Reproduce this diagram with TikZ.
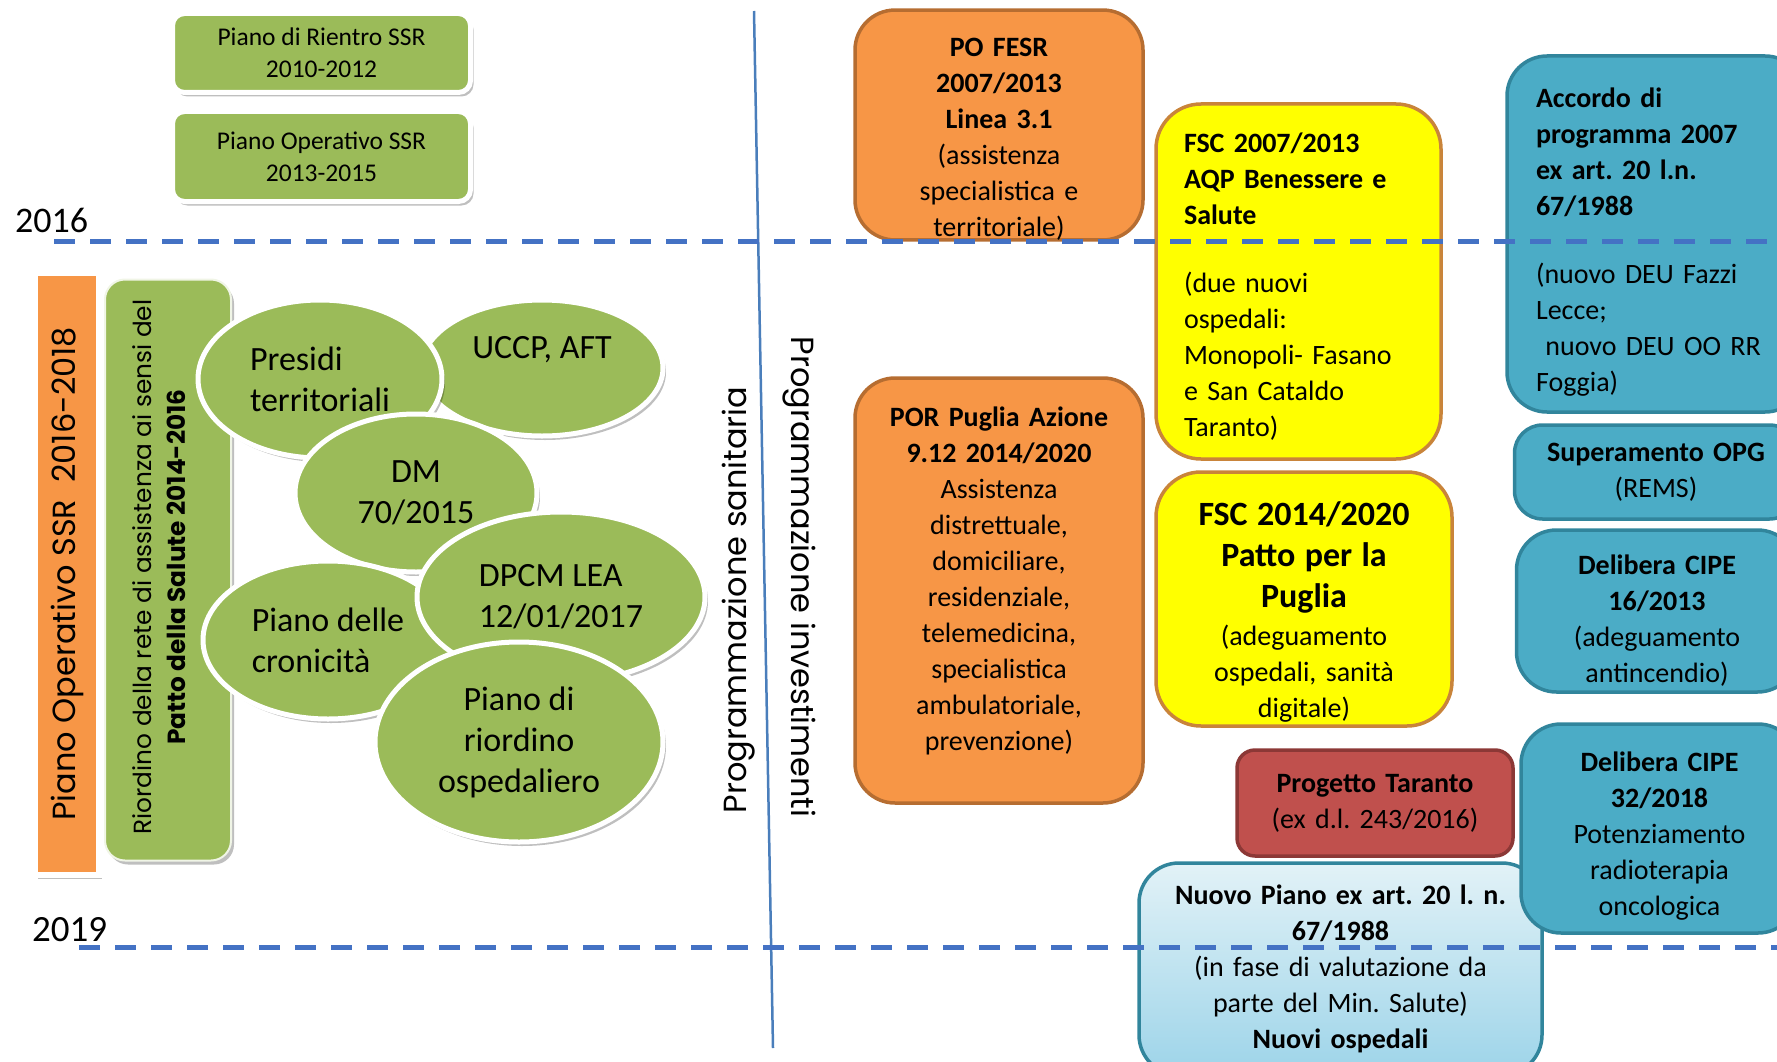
\documentclass[tikz,border=0pt]{standalone}
\usepackage{fontspec}
\setmainfont{Carlito}
\newfontfamily\gothic{Poppins}
\usetikzlibrary{shapes.geometric, shadows}
\usepackage{xcolor}
\definecolor{cg}{HTML}{9BBB59}
\definecolor{co}{HTML}{F79646}
\definecolor{cob}{HTML}{B66D31}
\definecolor{cy}{HTML}{FFFF00}
\definecolor{cyb}{HTML}{C9843A}
\definecolor{cb}{HTML}{4BACC6}
\definecolor{cbb}{HTML}{31859C}
\definecolor{cr}{HTML}{C0504D}
\definecolor{crb}{HTML}{8C3836}
\definecolor{cl1}{HTML}{E2F2F7}
\definecolor{cl2}{HTML}{9DD4E9}
\definecolor{cd}{HTML}{4472C4}
\definecolor{cv}{HTML}{4A7EBB}

\tikzset{
	soft/.style={drop shadow={shadow xshift=3pt, shadow yshift=-4pt, fill=black, opacity=0.25}},
	gbox/.style={soft, fill=cg, draw=white, line width=5pt, rounded corners=12pt, align=center, inner sep=0pt, font=\fontsize{25.5}{32}\selectfont},
	ell/.style={soft, ellipse, fill=cg, draw=white, line width=5pt, align=center, inner sep=0pt, font=\fontsize{34}{41}\selectfont},
	box/.style={draw, line width=3.5pt, rounded corners=40pt, align=center, inner sep=0pt, font=\fontsize{28}{36}\selectfont},
	obox/.style={box, fill=co, draw=cob},
	ybox/.style={box, fill=cy, draw=cyb, rounded corners=45pt},
	bbox/.style={box, fill=cb, draw=cbb},
	vtxt/.style={font=\gothic\fontsize{32}{40}\selectfont},
	dline/.style={cd, line width=5pt, dash pattern=on 21pt off 15pt},
}
\def\bigb#1{{\fontsize{34}{41}\selectfont\bfseries #1}}
\def\up#1{\rule{0pt}{#1}}
\def\dn#1{\rule[-#1]{0pt}{0pt}}
\frenchspacing

\begin{document}
\begin{tikzpicture}[x=1pt, y=-1pt]
	\useasboundingbox (0,0) rectangle (1777,1062);

	% before 2016
	\node[gbox, minimum width=298, minimum height=79] (rientro) at (321.5,53) {Piano di Rientro SSR\\2010-2012};
	\node[gbox, minimum width=298, minimum height=90] (po1315) at (321.5,156.5) {Piano Operativo SSR\\2013-2015};

	% programmazione sanitaria
	\node[soft, fill=co, draw=white, line width=6pt, minimum width=64, minimum height=602] (posr) at (67,574) {};
	\node[rotate=90, font=\gothic\fontsize{32}{38}\selectfont] (posrtxt) at (posr.center) {Piano Operativo SSR\ \ 2016-2018};
	\node[soft, fill=cg, draw=white!85!cg, line width=2pt, rounded corners=20pt, minimum width=126, minimum height=581] (rete) at (168,570) {};
	\node[rotate=90, align=center, font=\gothic\fontsize{24.8}{34}\selectfont] (retetxt) at (159,567) {Riordino della rete di assistenza ai sensi del\\\textbf{Patto della Salute 2014-2016}};

	\node[ell, minimum width=242, minimum height=136] (uccp) at (542,368) {UCCP, AFT\\\mbox{}};
	\node[ell, align=left, minimum width=244, minimum height=158] (presidi) at (320,379) {Presidi\\territoriali};
	\node[ell, minimum width=242, minimum height=158] (dm) at (416,493) {DM\\70/2015};
	\node[ell, align=left, minimum width=250, minimum height=158] (cron) at (328,640) {Piano delle\\cronicità};
	\node[ell, align=left, minimum width=288, minimum height=170] (dpcm) at (561,597) {DPCM LEA\\12/01/2017};
	\node[ell, minimum width=288, minimum height=200] (osp) at (519,742) {Piano di\\riordino\\ospedaliero};

	\node[vtxt, rotate=90] (progsan) at (739,600) {Programmazione sanitaria};
	\node[vtxt, rotate=-90] (proginv) at (799,577) {Programmazione investimenti};

	% programmazione investimenti
	\node[obox, minimum width=288, minimum height=228, text width=270] (fesr) at (999,125)
		{\up{46pt}\textbf{PO FESR}\\\textbf{2007/2013}\\\textbf{Linea 3.1}\\(assistenza\\specialistica e\\territoriale)};
	\node[ybox, align=left, minimum width=285, minimum height=355, text width=229] (fsca) at (1298.5,281.5)
		{\up{30pt}\textbf{FSC 2007/2013}\\\textbf{AQP Benessere e}\\\textbf{Salute}\\[32pt](due nuovi\\ospedali:\\Monopoli- Fasano\\e San Cataldo\\Taranto)};
	\node[bbox, align=left, minimum width=298, minimum height=356, text width=240] (accordo) at (1656,234)
		{\up{35pt}\textbf{Accordo di}\\\textbf{programma 2007}\\\textbf{ex art. 20 l.n.}\\\textbf{67/1988}\\[32pt](nuovo DEU Fazzi\\Lecce;\\\ nuovo DEU OO RR\\Foggia)};
	\node[obox, minimum width=288, minimum height=425, text width=270] (por) at (999,590.5)
		{\textbf{POR Puglia Azione}\\\textbf{9.12 2014/2020}\\Assistenza\\distrettuale,\\domiciliare,\\residenziale,\\telemedicina,\\specialistica\\ambulatoriale,\\prevenzione)\dn{24pt}};
	\node[ybox, minimum width=296, minimum height=254, text width=280] (fscb) at (1304,599)
		{\up{50pt}\bigb{FSC 2014/2020}\\[5pt]\bigb{Patto per la}\\[5pt]\bigb{Puglia}\\[2pt](adeguamento\\ospedali, sanità\\digitale)};
	\node[bbox, rounded corners=28pt, minimum width=283, minimum height=94, text width=260] (opg) at (1656,472)
		{\textbf{Superamento OPG}\\(REMS)};
	\node[bbox, minimum width=281, minimum height=162, text width=260] (cipe16) at (1657,611)
		{\up{39pt}\textbf{Delibera CIPE}\\\textbf{16/2013}\\(adeguamento\\antincendio)};
	\node[box, fill=cr, draw=crb, rounded corners=18pt, minimum width=276, minimum height=106, text width=260] (taranto) at (1375,803)
		{\textbf{Progetto Taranto}\\(ex d.l. 243/2016)};
	\node[box, top color=cl1, bottom color=cl2, draw=cbb, minimum width=403, minimum height=212, text width=380] (nuovo) at (1340.5,969)
		{\textbf{Nuovo Piano ex art. 20 l. n.}\\\textbf{67/1988}\\(in fase di valutazione da\\parte del Min. Salute)\\\textbf{Nuovi ospedali}};
	\node[bbox, minimum width=277, minimum height=209, text width=260] (cipe32) at (1659.5,828.5)
		{\up{35pt}\textbf{Delibera CIPE}\\\textbf{32/2018}\\Potenziamento\\radioterapia\\oncologica};

	% time lines
	\coordinate (vtop) at (754,11);
	\coordinate (vbot) at (773,1048);
	\draw[cv, line width=2.5pt] (vtop) -- (vbot);

	\coordinate (t0) at (54,241);
	\coordinate (t1) at (1777,241);
	\coordinate (b0) at (79,947);
	\coordinate (b1) at (1777,947);
	\draw[dline] (t0) -- (t1);
	\draw[dline] (b0) -- (b1);

	\node[anchor=base west, inner sep=0pt, font=\fontsize{36}{40}\selectfont] (y2016) at (15,232) {2016};
	\node[anchor=base west, inner sep=0pt, font=\fontsize{37}{40}\selectfont] (y2019) at (32,941) {2019};
\end{tikzpicture}
\end{document}
